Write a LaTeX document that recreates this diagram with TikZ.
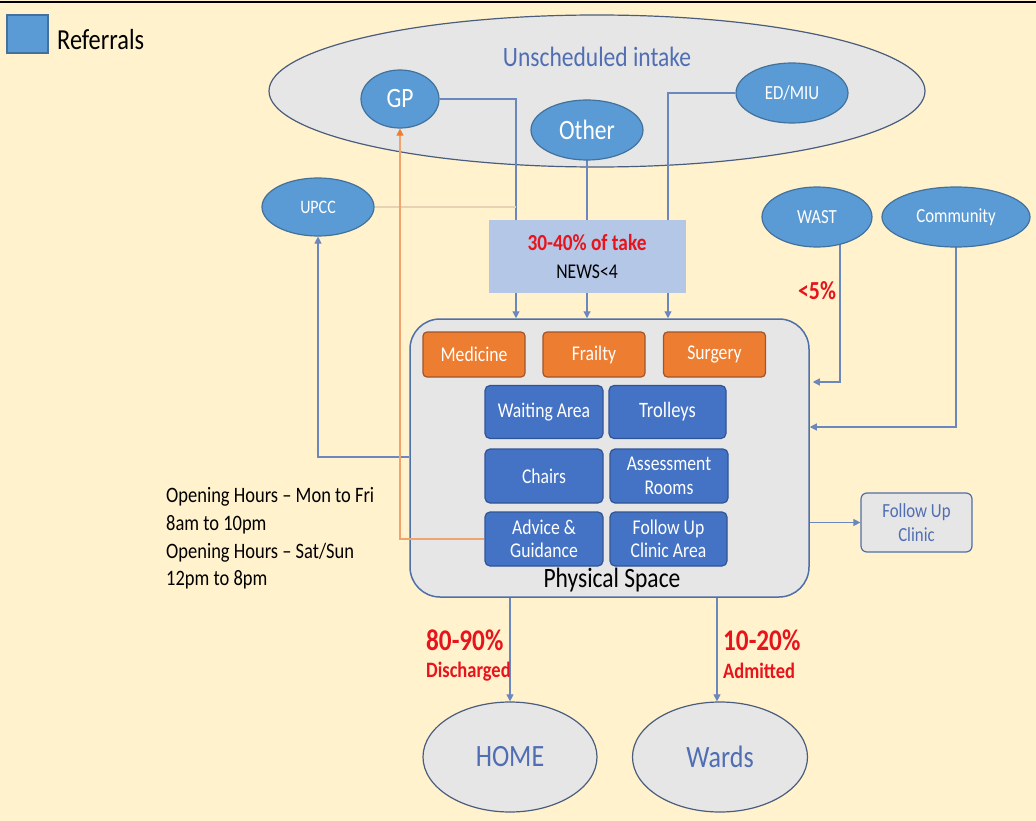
\documentclass[tikz,border=0pt]{standalone}
\usepackage{fontspec}
\setmainfont{Carlito}[FakeStretch=0.84]
\usetikzlibrary{shapes.geometric,arrows.meta,calc}
\definecolor{bgc}{HTML}{FFF2CC}
\definecolor{ellgray}{HTML}{E7E6E6}
\definecolor{ellgrayborder}{HTML}{4A5D7E}
\definecolor{ellblue}{HTML}{5B9BD5}
\definecolor{ellblueborder}{HTML}{41719C}
\definecolor{titleblue}{HTML}{4F6EB3}
\definecolor{takefill}{HTML}{B4C7E7}
\definecolor{lineblue}{HTML}{6A88BE}
\definecolor{linelight}{HTML}{E8D2B4}
\definecolor{lineorange}{HTML}{F0A36C}
\definecolor{orfill}{HTML}{ED7D31}
\definecolor{orborder}{HTML}{A3542A}
\definecolor{bfill}{HTML}{4472C4}
\definecolor{bborder}{HTML}{2F5597}
\definecolor{psborder}{HTML}{4F6FA8}
\definecolor{redtxt}{HTML}{E8141C}
\newcommand\fsz[2]{\fontsize{#1}{#2}\selectfont}
\pgfdeclarelayer{bglayer}
\pgfdeclarelayer{linelayer}
\pgfsetlayers{bglayer,linelayer,main}
\tikzset{
  ell/.style={ellipse, draw=ellblueborder, fill=ellblue, text=white, inner sep=0pt, line width=1.2pt},
  grayell/.style={ellipse, draw=ellgrayborder, fill=ellgray, inner sep=0pt, line width=1.2pt},
  conn/.style={draw=lineblue, line width=1.1pt, -{Triangle[length=7pt,width=7pt]}},
  orconn/.style={draw=lineorange, line width=1.1pt, -{Triangle[length=7pt,width=7pt,fill=orfill,color=orfill]}},
  orbox/.style={rectangle, rounded corners=4pt, draw=orborder, fill=orfill, text=white, minimum width=102pt, minimum height=45pt, line width=1.2pt, inner sep=0pt, font=\fsz{21}{24}},
  bbox/.style={rectangle, rounded corners=5pt, draw=bborder, fill=bfill, text=white, minimum width=118pt, minimum height=53pt, align=center, line width=1.2pt, inner sep=0pt, font=\fsz{21}{23.5}},
  redlab/.style={text=redtxt, inner sep=0pt, font=\bfseries}
}
\begin{document}
\begin{tikzpicture}[x=1pt,y=-1pt]
\useasboundingbox (0,0) rectangle (1036,821);
\begin{pgfonlayer}{bglayer}
  \fill[bgc] (0,0) rectangle (1036,821);
  \draw[line width=2.5pt] (0,2) -- (1036,2);
  \node[grayell, minimum width=656pt, minimum height=152pt] (big) at (597,91) {};
\end{pgfonlayer}

% legend
\node[rectangle, draw=ellblueborder, fill=ellblue, line width=1.2pt, minimum width=41pt, minimum height=38pt, inner sep=0pt] (legsq) at (27.5,34) {};
\node[anchor=west, inner sep=0pt, font=\fsz{29}{32}] (legtxt) at (57,40) {Referrals};

% unscheduled intake
\node[text=titleblue, inner sep=0pt, font=\fsz{28}{30}] (title) at (597,57) {Unscheduled intake};
\node[ell, minimum width=78pt, minimum height=58pt, font=\fsz{28}{30}] (gp) at (400,99) {GP};
\node[ell, minimum width=112pt, minimum height=60pt, font=\fsz{28}{30}] (other) at (587,130) {Other};
\node[ell, minimum width=112pt, minimum height=60pt, font=\fsz{20}{22}] (edmiu) at (792,93) {ED/MIU};
\node[ell, minimum width=112pt, minimum height=58pt, font=\fsz{19}{22}] (upcc) at (318,207) {UPCC};
\node[ell, minimum width=110pt, minimum height=60pt, font=\fsz{20}{22}] (wast) at (817,217) {WAST};
\node[ell, minimum width=148pt, minimum height=60pt, font=\fsz{20}{22}] (comm) at (956,217) {Community};

% take box
\node[rectangle, fill=takefill, minimum width=197pt, minimum height=73pt, inner sep=0pt] (take) at (587.5,256.5) {};
\node[redlab, font=\fsz{23}{26}\bfseries] (taketxt) at (587,243) {30-40\% of take};
\node[inner sep=0pt, font=\fsz{21}{24}] (news) at (587,272) {NEWS<4};

% physical space
\node[rectangle, rounded corners=30pt, draw=psborder, fill=ellgray, line width=1.5pt, minimum width=399pt, minimum height=278pt, inner sep=0pt] (ps) at (609.5,458) {};
\node[orbox] (med) at (474,354.5) {Medicine};
\node[orbox] (frail) at (594,354.5) {Frailty};
\node[orbox] (surg) at (714.5,354.5) {Surgery};
\node[bbox] (wait) at (544,412) {Waiting Area};
\node[bbox, minimum width=117pt, font=\fsz{22}{24}] (trol) at (667.5,412) {Trolleys};
\node[bbox, minimum height=54pt] (chairs) at (544,476) {Chairs};
\node[bbox, minimum height=54pt] (assess) at (669,476) {Assessment\\Rooms};
\node[bbox, minimum height=54pt] (advice) at (544,539) {Advice \&\\Guidance};
\node[bbox, minimum width=117pt, minimum height=54pt] (fuca) at (668.5,539) {Follow Up\\Clinic Area};
\node[inner sep=0pt, font=\fsz{28}{30}] (pslabel) at (612,580) {Physical Space};

% follow up clinic
\node[rectangle, rounded corners=6pt, draw=psborder, fill=ellgray, line width=1.2pt, minimum width=111pt, minimum height=59pt, inner sep=0pt, text=titleblue, align=center, font=\fsz{20}{24}] (fuc) at (916.5,522.5) {Follow Up\\Clinic};

% outcomes
\node[grayell, minimum width=174pt, minimum height=110pt, text=titleblue, font=\fsz{31}{33}] (home) at (510,757) {HOME};
\node[grayell, minimum width=175pt, minimum height=110pt, text=titleblue, font=\fsz{31}{33}] (wards) at (720,757) {Wards};

% text labels
\node[anchor=west, align=left, inner sep=0pt, font=\fsz{22}{27.7}] (hours) at (166,538.5) {Opening Hours -- Mon to Fri\\8am to 10pm\\Opening Hours -- Sat/Sun\\12pm to 8pm};
\node[redlab, font=\fsz{26}{28}\bfseries] (lt5) at (817,291) {<5\%};
\node[redlab, anchor=west, font=\fsz{30}{33}\bfseries] (p8090) at (426,640) {80-90\%};
\node[redlab, anchor=west, font=\fsz{22}{26}\bfseries] (disch) at (426,672) {Discharged};
\node[redlab, anchor=west, font=\fsz{30}{33}\bfseries] (p1020) at (723,640) {10-20\%};
\node[redlab, anchor=west, font=\fsz{22}{26}\bfseries] (adm) at (723,671) {Admitted};

% helper coordinates
\coordinate (x516) at (516,0);
\coordinate (x668) at (668,0);
\coordinate (x840) at (840,0);
\coordinate (y382) at (0,382);
\coordinate (y427) at (0,427);
\coordinate (y457) at (0,457);
\coordinate (x717) at (717,0);

\begin{pgfonlayer}{linelayer}
  \draw[conn] (gp.east) -| (ps.north -| x516);
  \draw[conn] (other.center) -- (other.center |- ps.north);
  \draw[conn] (edmiu.west) -| (ps.north -| x668);
  \draw[draw=linelight, line width=1.1pt] (upcc.east) -- (upcc.east -| x516);
  \draw[conn] (ps.west |- y457) -| (upcc.south);
  \draw[conn, shorten >=3pt] (wast.center -| x840) |- (ps.east |- y382);
  \draw[conn] (comm.center) |- (ps.east |- y427);
  \draw[conn] (ps.east |- fuc.west) -- (fuc.west);
  \draw[conn] (ps.center -| home.north) -- (home.north);
  \draw[conn] (ps.center -| x717) -- (wards.north -| x717);
\end{pgfonlayer}
\draw[orconn] (advice.west) -| (gp.south);
\end{tikzpicture}
\end{document}
